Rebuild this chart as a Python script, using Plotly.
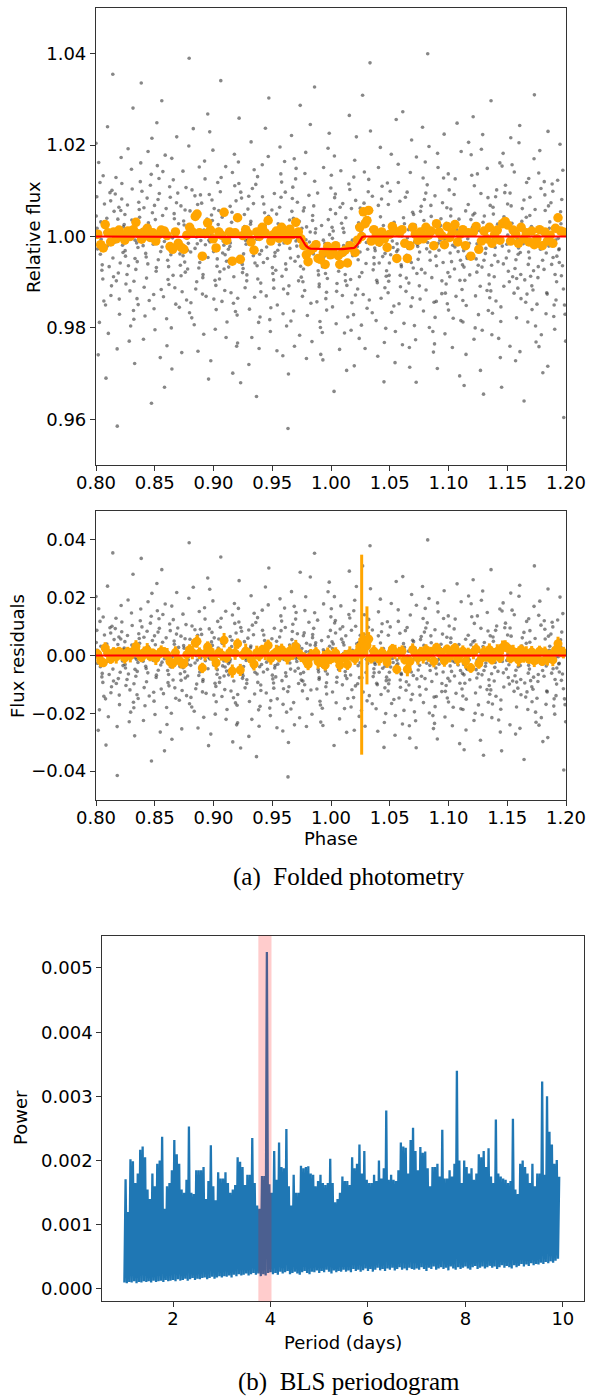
import numpy as np
import plotly.graph_objects as go

W, H = 589, 1397

# ---------------- Folded photometry: unbinned points
# phase = 0.8 + value * 1e-4 ; flux = 1 + value * 1e-4
gray_phase_e4 = [
    41,7,67,22,53,0,77,34,14,58,29,2,72,44,19,61,9,50,37,23,
    132,96,154,85,119,107,144,81,125,98,158,112,86,136,105,149,92,127,111,143,
    195,230,173,214,163,200,186,236,180,219,170,206,226,164,198,233,181,211,190,220,
    257,302,276,240,289,251,315,268,295,248,282,308,264,319,246,297,273,255,305,283,
    377,339,393,357,322,368,349,385,332,398,364,323,381,346,329,371,351,391,333,359,
    423,455,404,470,435,410,460,441,476,417,446,401,463,430,472,408,453,420,443,427,
    528,494,544,512,480,551,502,536,487,518,555,498,530,485,522,547,505,539,491,514,
    601,567,627,582,613,560,637,594,574,618,589,562,632,604,579,621,569,610,597,583,
    692,656,714,645,679,667,704,641,685,658,718,672,646,696,665,709,652,687,671,703,
    755,790,733,774,723,760,746,796,740,779,730,766,786,724,758,793,741,771,750,780,
    817,862,836,800,849,811,875,828,855,808,842,868,824,879,806,857,833,815,865,843,
    937,899,953,917,882,928,909,945,892,958,924,883,941,906,889,931,911,951,893,919,
    983,1015,964,1030,995,970,1020,1001,1036,977,1006,961,1023,990,1032,968,1013,980,1003,987,
    1088,1054,1104,1072,1040,1111,1062,1096,1047,1078,1115,1058,1090,1045,1082,1107,1065,1099,1051,1074,
    1161,1127,1187,1142,1173,1120,1197,1154,1134,1178,1149,1122,1192,1164,1139,1181,1129,1170,1157,1143,
    1252,1216,1274,1205,1239,1227,1264,1201,1245,1218,1278,1232,1206,1256,1225,1269,1212,1247,1231,1263,
    1315,1350,1293,1334,1283,1320,1306,1356,1300,1339,1290,1326,1346,1284,1318,1353,1301,1331,1310,1340,
    1377,1422,1396,1360,1409,1371,1435,1388,1415,1368,1402,1428,1384,1439,1366,1417,1393,1375,1425,1403,
    1497,1459,1513,1477,1442,1488,1469,1505,1452,1518,1484,1443,1501,1466,1449,1491,1471,1511,1453,1479,
    1543,1575,1524,1590,1555,1530,1580,1561,1596,1537,1566,1521,1583,1550,1592,1528,1573,1540,1563,1547,
    1648,1614,1664,1632,1600,1671,1622,1656,1607,1638,1675,1618,1650,1605,1642,1667,1625,1659,1611,1634,
    1721,1687,1747,1702,1733,1680,1757,1714,1694,1738,1709,1682,1752,1724,1699,1741,1689,1730,1717,1703,
    1812,1776,1834,1765,1799,1787,1824,1761,1805,1778,1838,1792,1766,1816,1785,1829,1772,1807,1791,1823,
    1875,1910,1853,1894,1843,1880,1866,1916,1860,1899,1850,1886,1906,1844,1878,1913,1861,1891,1870,1900,
    1937,1982,1956,1920,1969,1931,1995,1948,1975,1928,1962,1988,1944,1999,1926,1977,1953,1935,1985,1963,
    2057,2019,2073,2037,2002,2048,2029,2065,2012,2078,2044,2003,2061,2026,2009,2051,2031,2071,2013,2039,
    2103,2135,2084,2150,2115,2090,2140,2121,2156,2097,2126,2081,2143,2110,2152,2088,2133,2100,2123,2107,
    2208,2174,2224,2192,2160,2231,2182,2216,2167,2198,2235,2178,2210,2165,2202,2227,2185,2219,2171,2194,
    2281,2247,2307,2262,2293,2240,2317,2274,2254,2298,2269,2242,2312,2284,2259,2301,2249,2290,2277,2263,
    2372,2336,2394,2325,2359,2347,2384,2321,2365,2338,2398,2352,2326,2376,2345,2389,2332,2367,2351,2383,
    2435,2470,2413,2454,2403,2440,2426,2476,2420,2459,2410,2446,2466,2404,2438,2473,2421,2451,2430,2460,
    2497,2542,2516,2480,2529,2491,2555,2508,2535,2488,2522,2548,2504,2559,2486,2537,2513,2495,2545,2523,
    2617,2579,2633,2597,2562,2608,2589,2625,2572,2638,2604,2563,2621,2586,2569,2611,2591,2631,2573,2599,
    2663,2695,2644,2710,2675,2650,2700,2681,2716,2657,2686,2641,2703,2670,2712,2648,2693,2660,2683,2667,
    2768,2734,2784,2752,2720,2791,2742,2776,2727,2758,2795,2738,2770,2725,2762,2787,2745,2779,2731,2754,
    2841,2807,2867,2822,2853,2800,2877,2834,2814,2858,2829,2802,2872,2844,2819,2861,2809,2850,2837,2823,
    2932,2896,2954,2885,2919,2907,2944,2881,2925,2898,2958,2912,2886,2936,2905,2949,2892,2927,2911,2943,
    2995,3030,2973,3014,2963,3000,2986,3036,2980,3019,2970,3006,3026,2964,2998,3033,2981,3011,2990,3020,
    3057,3102,3076,3040,3089,3051,3115,3068,3095,3048,3082,3108,3064,3119,3046,3097,3073,3055,3105,3083,
    3177,3139,3193,3157,3122,3168,3149,3185,3132,3198,3164,3123,3181,3146,3129,3171,3151,3191,3133,3159,
    3223,3255,3204,3270,3235,3210,3260,3241,3276,3217,3246,3201,3263,3230,3272,3208,3253,3220,3243,3227,
    3328,3294,3344,3312,3280,3351,3302,3336,3287,3318,3355,3298,3330,3285,3322,3347,3305,3339,3291,3314,
    3401,3367,3427,3382,3413,3360,3437,3394,3374,3418,3389,3362,3432,3404,3379,3421,3369,3410,3397,3383,
    3492,3456,3514,3445,3479,3467,3504,3441,3485,3458,3518,3472,3446,3496,3465,3509,3452,3487,3471,3503,
    3555,3590,3533,3574,3523,3560,3546,3596,3540,3579,3530,3566,3586,3524,3558,3593,3541,3571,3550,3580,
    3617,3662,3636,3600,3649,3611,3675,3628,3655,3608,3642,3668,3624,3679,3606,3657,3633,3615,3665,3643,
    3737,3699,3753,3717,3682,3728,3709,3745,3692,3758,3724,3683,3741,3706,3689,3731,3711,3751,3693,3719,
    3783,3815,3764,3830,3795,3770,3820,3801,3836,3777,3806,3761,3823,3790,3832,3768,3813,3780,3803,3787,
    3888,3854,3904,3872,3840,3911,3862,3896,3847,3878,3915,3858,3890,3845,3882,3907,3865,3899,3851,3874,
    3961,3927,3987,3942,3973,3920,3997,3954,3934,3978,3949,3922,3992,3964,3939,3981,3929,3970,3957,3943,
]
gray_flux_dev_e4 = [
    32,87,-141,-15,-62,204,9,118,-27,-93,-188,45,71,-6,-259,133,18,-74,-39,162,
    -108,-21,55,-310,96,12,-47,-150,78,240,-3,-66,27,101,-212,-88,40,-129,7,355,
    64,-35,-97,173,-12,-170,38,5,-246,82,129,-58,-19,93,-137,21,-415,57,-80,116,
    -9,147,-64,26,-119,-43,281,69,-196,-31,11,104,-83,-162,48,-5,192,-104,36,-229,
    120,-72,15,-24,-181,59,-136,336,-48,8,75,-98,161,-14,-278,42,-55,99,-8,-149,
    -37,23,-225,136,84,-111,-2,-60,215,-174,30,-20,112,-91,-365,63,-140,19,186,-45,
    81,-158,4,-76,52,-33,-204,127,-17,249,-116,68,-51,-7,155,-265,37,94,-127,-68,
    -180,46,109,-11,-94,297,-40,17,-132,-66,178,-23,86,-239,2,-105,142,-52,61,-330,
    13,-85,-38,171,-148,39,-11,-200,74,124,-63,-29,-290,95,50,-155,-3,218,-112,28,
    -56,198,-121,-4,67,-78,34,-167,143,-30,-254,107,-15,-86,58,390,-42,-139,25,-71,
    102,-16,-193,56,-115,20,-69,236,-1,-145,89,-251,44,152,-34,-99,11,-178,70,-26,
    -131,73,-46,-214,5,126,-90,38,-9,-312,165,-57,24,-126,91,-18,-83,268,-44,14,
    47,-203,92,-65,189,-12,-107,-33,118,-272,61,-8,-160,35,-49,229,-96,3,-137,80,
    -19,-77,153,-142,26,-54,341,-118,16,-36,-187,98,-71,57,-10,-221,129,-40,-93,42,
    140,-28,-164,66,-88,-5,-240,31,-52,180,-123,10,78,-299,-22,111,-67,-146,53,-14,
    -70,116,-9,-233,84,-45,22,-172,-61,259,-17,97,-135,-38,6,-112,163,-79,-320,48,
    27,-133,60,-25,-97,207,-159,13,88,-42,-7,-221,146,-84,33,-58,-280,105,-13,72,
    -93,9,-176,114,-31,-64,52,-245,157,-6,-102,71,-188,24,-350,87,-39,131,-57,-121,
    58,-48,-113,-2,237,-156,44,-81,-23,94,-208,15,-68,175,-130,-11,303,-95,39,-182,
    -150,86,-35,-261,7,-74,119,-18,-115,49,196,-43,-87,28,-169,-3,137,-250,64,-30,
    36,-60,221,-125,-14,83,-196,-47,12,-301,108,-72,-26,164,-108,55,-9,-185,97,-420,
    -44,170,-89,-10,-216,40,-131,75,-54,287,-21,-163,18,-97,126,-65,-240,33,-6,149,
    90,-118,-29,56,-173,-7,245,-99,-41,138,-230,21,-71,-12,184,-146,63,-35,-267,10,
    -12,-199,67,-84,35,-143,8,-55,327,-110,-38,95,-186,46,-16,-258,121,-75,17,-104,
    151,-39,-136,24,-92,-270,59,-15,193,-66,-122,4,-43,106,-210,37,-81,-8,226,-161,
    -63,12,-247,93,-30,-120,176,-76,-4,64,-191,134,-48,-339,20,-103,85,-27,-154,50,
    18,-107,144,-55,-211,29,-14,-83,265,-129,41,-62,-176,9,115,-36,-293,72,-97,-20,
    -128,61,-22,-171,103,-51,-8,218,-94,-283,30,-145,79,-17,167,-115,-42,21,-205,130,
    73,-34,-157,-6,52,-223,98,-127,11,-59,309,-88,-28,141,-194,-13,62,-245,34,-79,
    -25,231,-101,39,-73,-11,-184,125,-46,16,-262,88,-139,-31,57,-96,380,-60,-167,3,
    110,-87,-19,-232,68,-44,-135,7,195,-112,-58,24,-201,151,-7,-75,43,-318,82,-37,
    -58,19,-166,117,-24,-98,256,-40,-152,70,-10,-208,99,-33,-123,31,180,-85,-276,14,
    41,-147,86,-62,-16,-237,-85,28,158,-120,1,-53,-190,77,-29,273,-110,-45,118,-66,
    -102,53,-41,-195,140,-3,-69,-153,25,-26,211,-91,48,-286,-12,97,-134,15,-57,-243,
    66,-17,128,-108,-226,35,-50,-9,174,-137,81,-22,-72,-319,55,-163,10,239,-81,-34,
    -34,95,-208,-13,44,-80,-144,197,-27,-90,6,163,-253,-52,113,-18,-117,68,-199,400,
    24,-142,-57,89,-30,182,-97,-235,17,-64,128,-15,-177,39,-289,74,-43,-8,151,-125,
    -79,5,-124,-36,224,-161,63,-19,-104,45,-213,102,-55,-6,137,-243,29,-88,-147,60,
    126,-52,-12,-179,38,-71,-116,15,-305,92,-33,186,-131,-62,21,-96,248,-23,-184,8,
    -15,-96,179,-44,-140,70,-258,11,-67,134,-5,-187,-84,56,-31,206,-151,37,-326,-48,
    51,-171,20,-109,-49,262,-21,-78,94,-225,137,-38,13,-130,-293,47,-63,111,-16,-200,
    -118,31,-84,-9,191,-134,-52,85,-205,-26,68,-345,149,-67,8,-104,45,-162,223,-37,
    87,-63,-223,49,-7,-119,161,-41,-168,27,-88,297,-13,-141,64,-55,-215,102,-24,-4,
    -47,154,-32,-186,96,-60,3,-265,112,-21,-99,43,-154,-17,182,-76,-330,26,-109,71,
    8,-113,67,-51,-240,141,-88,-25,29,-178,216,-70,-6,95,-124,-39,157,-272,18,-92,
    -136,42,-16,205,-95,-35,-187,61,-11,-252,80,-126,33,-61,243,-144,-2,-83,118,-360,
    59,-87,-148,13,-34,170,-108,-231,46,-18,-75,127,-196,22,-47,310,-160,-9,86,-117,
    -28,120,-66,-169,7,-241,91,-52,-123,188,-14,-90,57,-215,-36,139,-72,16,-298,105,
    99,-21,-203,74,-126,-8,32,-175,230,-61,-139,18,-46,-284,115,-83,2,-150,67,-12,
    -86,37,-150,-27,145,-99,-229,54,-4,-115,202,-43,-170,81,-29,-396,123,-64,28,-57,
]

# ---------------- Binned points (orange)
orange_phase = [
    0.8015,0.8040,0.8062,0.8078,0.8101,0.8125,0.8150,0.8172,0.8196,0.8221,
    0.8245,0.8270,0.8292,0.8318,0.8340,0.8362,0.8388,0.8410,0.8436,0.8460,
    0.8484,0.8509,0.8532,0.8555,0.8581,0.8605,0.8630,0.8652,0.8676,0.8700,
    0.8725,0.8748,0.8773,0.8797,0.8820,0.8845,0.8860,0.8880,0.8905,0.8928,
    0.8950,0.8974,0.8998,0.9022,0.9045,0.9068,0.9090,0.9112,0.9137,0.9160,
    0.9184,0.9205,0.9228,0.9250,0.9274,0.9297,0.9320,0.9345,0.9368,0.9390,
    0.9415,0.9440,0.9465,0.9488,0.9510,0.9535,0.9558,0.9580,0.9605,0.9628,
    0.9650,0.9672,0.9700,0.9722,0.9745,0.9768,0.9790,0.9805,0.9828,0.9850,
    0.9872,0.9890,0.9910,0.9935,0.9950,0.9972,0.9995,1.0018,1.0040,1.0062,
    1.0075,1.0098,1.0120,1.0140,1.0160,1.0182,1.0205,1.0225,1.0245,1.0261,
    1.0275,1.0290,1.0306,1.0320,1.0342,1.0365,1.0385,1.0410,1.0432,1.0455,
    1.0478,1.0500,1.0522,1.0545,1.0560,1.0582,1.0605,1.0628,1.0650,1.0672,
    1.0695,1.0718,1.0740,1.0762,1.0785,1.0808,1.0830,1.0852,1.0875,1.0898,
    1.0920,1.0942,1.0965,1.0988,1.1010,1.1032,1.1055,1.1078,1.1100,1.1122,
    1.1145,1.1168,1.1190,1.1212,1.1235,1.1258,1.1280,1.1302,1.1325,1.1348,
    1.1370,1.1392,1.1415,1.1438,1.1460,1.1482,1.1505,1.1528,1.1550,1.1572,
    1.1595,1.1618,1.1640,1.1662,1.1685,1.1708,1.1730,1.1752,1.1775,1.1798,
    1.1820,1.1842,1.1865,1.1888,1.1910,1.1932,1.1955,1.1978,
]
orange_dev_e4 = [
    5,-18,-25,26,8,-12,10,-5,14,3,
    -8,12,0,15,31,6,-6,10,18,-2,
    8,-10,4,14,12,2,-22,-28,10,-15,
    -24,-28,3,20,10,44,49,8,-43,6,
    30,14,-5,-25,10,3,53,-8,10,-54,
    8,41,-50,2,15,6,-12,-30,10,0,
    20,8,35,-10,4,12,-4,20,8,-8,
    16,4,31,10,-5,-20,-40,-55,-30,-25,
    -18,-48,-50,-35,-61,-22,-40,-28,-20,-42,
    -61,-35,-30,-58,-20,-25,-35,-8,20,0,
    54,28,35,57,-10,15,2,-12,10,-5,
    -24,5,22,12,-48,8,15,-15,-48,-20,
    20,5,-8,10,-5,20,3,12,-20,28,
    10,2,-18,22,-2,10,26,-12,5,15,
    -20,8,-43,10,22,-28,-10,12,-5,20,
    -15,4,14,-8,28,33,25,-10,14,5,
    -15,20,-5,8,-12,12,-18,-5,15,-20,
    10,-10,3,-15,18,41,12,10,
]
orange_err_e4 = [
    18,22,15,20,25,17,19,23,16,21,
    20,18,24,15,22,19,17,21,25,18,
    16,23,19,21,17,24,20,18,22,15,
    21,17,25,19,23,16,22,20,18,24,
    19,22,16,24,18,21,25,17,20,23,
    23,18,21,17,26,19,15,22,24,20,
    17,24,20,22,16,25,19,21,18,23,
    22,19,23,18,21,17,24,20,26,16,
    20,25,17,23,19,22,18,24,21,17,
    24,16,22,19,25,18,21,23,30,346,
    26,22,135,24,18,21,17,23,20,25,
    19,23,18,25,17,22,20,16,24,21,
    22,17,24,20,23,19,25,18,21,16,
    18,24,21,16,22,25,17,23,19,20,
    25,19,17,23,20,18,24,21,16,22,
    16,22,25,18,24,20,19,17,23,21,
    23,18,20,24,17,21,22,25,19,16,
    21,25,17,22,19,24,18,20,
]

# ---------------- Transit model (red)
model_phase = [0.80, 0.9730, 0.9740, 0.9750, 0.9760, 0.9770, 0.9780, 0.9790, 0.9800, 0.9810, 0.9825,
               0.9900, 1.0000, 1.0100, 1.0180, 1.0195, 1.0205, 1.0215, 1.0225, 1.0235, 1.0245,
               1.0255, 1.0265, 1.0280, 1.20]
model_flux = [1.0, 1.0, 0.99985, 0.9995, 0.9990, 0.99855, 0.9982, 0.9979, 0.99765, 0.9975, 0.99735,
              0.99725, 0.99722, 0.99725, 0.99735, 0.9975, 0.99765, 0.9979, 0.9982, 0.99855, 0.9990,
              0.9995, 0.99985, 1.0, 1.0]

# ---------------- BLS periodogram (power in 1e-5)
periods = [
    1.00,1.05,1.10,1.15,1.20,1.25,1.30,1.35,1.40,1.45,
    1.50,1.55,1.60,1.65,1.70,1.75,1.80,1.85,1.90,1.95,
    2.00,2.05,2.10,2.15,2.20,2.25,2.30,2.35,2.40,2.45,
    2.50,2.55,2.60,2.65,2.70,2.75,2.80,2.85,2.90,2.95,
    3.00,3.05,3.10,3.15,3.20,3.25,3.30,3.35,3.40,3.45,
    3.50,3.55,3.60,3.65,3.70,3.75,3.80,3.85,3.90,3.95,
    4.00,4.05,4.10,4.15,4.20,4.25,4.30,4.35,4.40,4.45,
    4.50,4.55,4.60,4.65,4.70,4.75,4.80,4.85,4.90,4.95,
    5.00,5.05,5.10,5.15,5.20,5.25,5.30,5.35,5.40,5.45,
    5.50,5.55,5.60,5.65,5.70,5.75,5.80,5.85,5.90,5.95,
    6.00,6.05,6.10,6.15,6.20,6.25,6.30,6.35,6.40,6.45,
    6.50,6.55,6.60,6.65,6.70,6.75,6.80,6.85,6.90,6.95,
    7.00,7.05,7.10,7.15,7.20,7.25,7.30,7.35,7.40,7.45,
    7.50,7.55,7.60,7.65,7.70,7.75,7.80,7.85,7.90,7.95,
    8.00,8.05,8.10,8.15,8.20,8.25,8.30,8.35,8.40,8.45,
    8.50,8.55,8.60,8.65,8.70,8.75,8.80,8.85,8.90,8.95,
    9.00,9.05,9.10,9.15,9.20,9.25,9.30,9.35,9.40,9.45,
    9.50,9.55,9.60,9.65,9.70,9.75,9.80,9.85,9.90,
]
power_top_e5 = [
    171,120,202,199,165,180,217,222,205,155,
    140,180,160,195,200,237,125,160,165,185,
    232,210,195,155,150,170,253,150,148,185,
    185,185,190,140,168,224,160,138,182,172,
    172,182,165,150,155,162,205,198,190,162,
    178,178,235,165,130,125,176,176,525,163,
    150,215,170,228,190,188,249,160,130,178,
    150,150,192,188,190,191,180,178,160,168,
    178,165,162,165,203,165,135,140,150,175,
    168,168,162,205,188,195,225,180,215,170,
    165,165,178,168,200,172,188,278,170,178,
    170,168,185,228,222,220,180,232,251,215,
    185,221,212,214,188,160,190,190,195,175,
    248,172,172,185,175,195,340,200,165,200,
    190,180,188,170,180,210,205,215,190,219,
    175,165,264,180,175,172,170,165,168,265,
    155,148,195,200,190,180,165,195,160,180,
    180,323,178,300,245,225,195,201,175,
]
power_base_e5 = [
    10,9,11,10,12,9,11,10,12,11,
    12,10,13,11,12,13,11,14,12,13,
    14,12,15,13,14,16,13,15,17,14,
    16,15,17,18,15,17,19,16,18,20,
    18,20,19,21,18,22,20,23,21,22,
    24,21,23,25,22,24,20,23,21,25,
    26,23,25,22,27,24,26,28,23,25,
    27,24,22,26,28,25,23,27,26,29,
    25,28,26,30,27,24,29,26,28,27,
    30,27,29,26,31,28,30,27,29,32,
    28,31,27,30,33,29,31,28,32,30,
    33,29,31,34,30,32,29,33,31,30,
    32,30,34,31,28,33,31,35,30,32,
    34,31,33,29,35,32,30,34,31,33,
    35,32,30,34,36,31,33,35,32,34,
    36,33,35,31,34,37,33,36,34,32,
    37,34,36,39,35,38,36,40,37,39,
    38,41,39,42,40,43,41,44,47,
]
highlight_band = [3.75, 4.02]

# ---------------- derived quantities
g_phase = 0.8 + np.array(gray_phase_e4) * 1e-4
g_flux = 1.0 + np.array(gray_flux_dev_e4) * 1e-4
g_resid = g_flux - np.interp(g_phase, model_phase, model_flux)

o_phase = np.array(orange_phase)
o_flux = 1.0 + np.array(orange_dev_e4) * 1e-4
o_resid = o_flux - np.interp(o_phase, model_phase, model_flux)
o_err = np.array(orange_err_e4) * 1e-4

per = np.array(periods)
zig_x = np.ravel(np.column_stack([per, per + 0.025]))
zig_y = np.ravel(np.column_stack([np.array(power_base_e5) * 1e-5, np.array(power_top_e5) * 1e-5]))

GRAY = "rgba(55,55,55,0.6)"
ORANGE = "#FFA500"
RED = "#FF0000"
BLUE = "#1f77b4"

fig = go.Figure()
# panel 1
fig.add_trace(go.Scatter(x=g_phase, y=g_flux, mode="markers", marker=dict(size=3.6, color=GRAY),
                         xaxis="x", yaxis="y", showlegend=False))
fig.add_trace(go.Scatter(x=o_phase, y=o_flux, mode="markers", marker=dict(size=9.5, color=ORANGE),
                         xaxis="x", yaxis="y", showlegend=False))
fig.add_trace(go.Scatter(x=model_phase, y=model_flux, mode="lines", line=dict(color=RED, width=2.2),
                         xaxis="x", yaxis="y", showlegend=False))
# panel 2
fig.add_trace(go.Scatter(x=g_phase, y=g_resid, mode="markers", marker=dict(size=3.6, color=GRAY),
                         xaxis="x2", yaxis="y2", showlegend=False))
fig.add_trace(go.Scatter(x=o_phase, y=o_resid, mode="markers", marker=dict(size=9, color=ORANGE),
                         error_y=dict(type="data", array=o_err, color=ORANGE, thickness=3, width=0),
                         xaxis="x2", yaxis="y2", showlegend=False))
fig.add_trace(go.Scatter(x=[model_phase[0], model_phase[-1]], y=[0, 0], mode="lines",
                         line=dict(color=RED, width=2.2), xaxis="x2", yaxis="y2", showlegend=False))
# panel 3
fig.add_trace(go.Scatter(x=zig_x, y=zig_y, mode="lines", line=dict(color=BLUE, width=2.3),
                         xaxis="x3", yaxis="y3", showlegend=False))

fig.add_shape(type="rect", xref="x3", yref="y3 domain", x0=highlight_band[0], x1=highlight_band[1],
              y0=0, y1=1, fillcolor="rgba(255,0,0,0.2)", line=dict(width=0), layer="above")

TICKFONT = dict(family="DejaVu Sans", size=18, color="black")
axis_common = dict(showline=True, linecolor="#333333", linewidth=1.2, mirror=True, ticks="outside",
                   ticklen=5, tickwidth=1.2, tickcolor="#333333", showgrid=False, zeroline=False,
                   tickfont=TICKFONT, automargin=False)
xaxis_common = dict(axis_common, ticklabelstandoff=-4)

def ydom(top, bottom):
    return [1 - bottom / H, 1 - top / H]

fig.update_layout(
    template="none",
    width=W, height=H, margin=dict(l=0, r=0, t=0, b=0, pad=0), autosize=False,
    paper_bgcolor="white", plot_bgcolor="white", showlegend=False,
    xaxis=dict(domain=[96 / W, 566 / W], range=[0.8, 1.2], tick0=0.8, dtick=0.05, tickformat=".2f",
               anchor="y", **xaxis_common),
    yaxis=dict(domain=ydom(8, 465), range=[0.95, 1.05], tick0=0.96, dtick=0.02, tickformat=".2f",
               anchor="x", **axis_common),
    xaxis2=dict(domain=[96 / W, 566 / W], range=[0.8, 1.2], tick0=0.8, dtick=0.05, tickformat=".2f",
                anchor="y2", **xaxis_common),
    yaxis2=dict(domain=ydom(511, 800), range=[-0.05, 0.05], tick0=0, dtick=0.02, tickformat=".2f",
                anchor="x2", **axis_common),
    xaxis3=dict(domain=[102.3 / W, 584.3 / W], range=[0.547, 10.44], tickvals=[2, 4, 6, 8, 10],
                anchor="y3", **xaxis_common),
    yaxis3=dict(domain=ydom(935.7, 1301.3), range=[-0.000192, 0.005503], tick0=0, dtick=0.001,
                tickformat=".3f", anchor="x3", **axis_common),
)

LABFONT = dict(family="DejaVu Sans", size=18, color="black")
CAPFONT = dict(family="Liberation Serif", size=25, color="black")
ann = [
    dict(text="Relative flux", x=33 / W, y=1 - 237 / H, textangle=-90, font=LABFONT),
    dict(text="Flux residuals", x=17 / W, y=1 - 656 / H, textangle=-90, font=LABFONT),
    dict(text="Phase", x=331 / W, y=1 - 838 / H, font=LABFONT),
    dict(text="(a)\u2002Folded photometry", x=349 / W, y=1 - 877 / H, font=CAPFONT),
    dict(text="Power", x=20 / W, y=1 - 1118 / H, textangle=-90, font=LABFONT),
    dict(text="Period (days)", x=343 / W, y=1 - 1342 / H, font=LABFONT),
    dict(text="(b)\u2002BLS periodogram", x=349 / W, y=1 - 1382 / H, font=CAPFONT),
]
for a in ann:
    fig.add_annotation(xref="paper", yref="paper", showarrow=False, xanchor="center", yanchor="middle", **a)

fig.write_html("out.html")
